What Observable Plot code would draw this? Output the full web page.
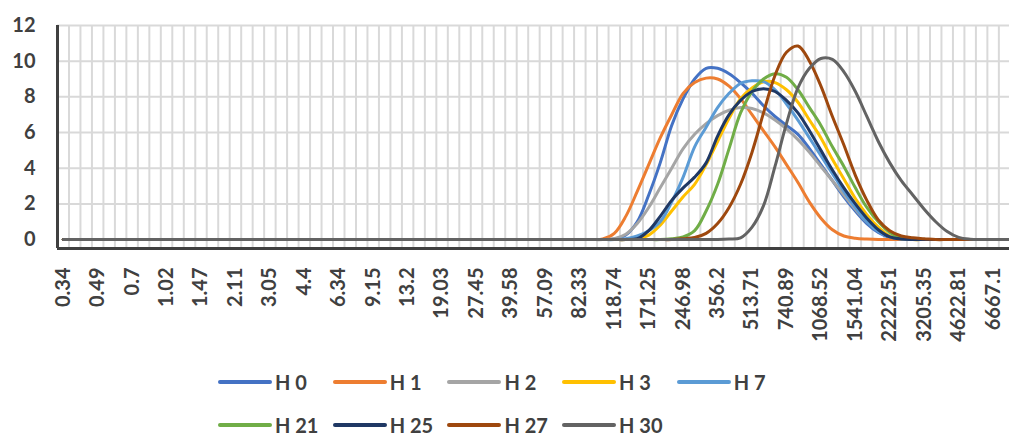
<!DOCTYPE html>
<html><head><meta charset="utf-8">
<script src="https://cdn.jsdelivr.net/npm/d3@7"></script>
<script src="https://cdn.jsdelivr.net/npm/@observablehq/plot@0.6"></script>
<style>
html,body{margin:0;padding:0;background:#fff;overflow:hidden;}
#chart svg{display:block;}
#legend{margin-top:15px;padding-left:218px;width:574px;display:flex;flex-wrap:wrap;font-family:Lato,"Open Sans",sans-serif;font-weight:700;font-size:20px;color:#404040;}
.item{width:114.7px;height:43px;display:flex;align-items:center;white-space:nowrap;}
.sw{width:54px;height:4px;margin-right:3px;border-radius:2px;flex:none;}
</style></head><body><div id="chart"></div><div id="legend"></div>
<script>
// x tick labels (one label every third size class)
const tickLabels = ["0.34","0.49","0.7","1.02","1.47","2.11","3.05","4.4","6.34","9.15","13.2","19.03","27.45","39.58","57.09","82.33","118.74","171.25","246.98","356.2","513.71","740.89","1068.52","1541.04","2222.51","3205.35","4622.81","6667.1"];
const labelEvery = 3;
const yTicks = [0, 2, 4, 6, 8, 10, 12];
const seriesNames = ["H 0","H 1","H 2","H 3","H 7","H 21","H 25","H 27","H 30"];
const seriesColors = ["#4472C4","#ED7D31","#A5A5A5","#FFC000","#5B9BD5","#70AD47","#1F3864","#9E480E","#636363"];

// values per size class (84 classes, 12 per row)
const H0 = [
0,0,0,0,0,0,0,0,0,0,0,0,
0,0,0,0,0,0,0,0,0,0,0,0,
0,0,0,0,0,0,0,0,0,0,0,0,
0,0,0,0,0,0,0,0,0,0,0,0,
0.03,0.25,1.0,2.5,4.3,6.4,7.9,9.0,9.6,9.6,9.3,8.8,
8.2,7.5,6.9,6.4,5.9,5.1,4.2,3.3,2.4,1.6,0.9,0.4,
0.12,0.03,0,0,0,0,0,0,0,0,0,0];
const H1 = [
0,0,0,0,0,0,0,0,0,0,0,0,
0,0,0,0,0,0,0,0,0,0,0,0,
0,0,0,0,0,0,0,0,0,0,0,0,
0,0,0,0,0,0,0,0,0,0,0,0.03,
0.35,1.3,2.7,4.2,5.7,7.0,8.2,8.8,9.05,9.0,8.6,7.9,
7.0,6.1,5.2,4.2,3.2,2.1,1.2,0.55,0.2,0.08,0.03,0,
0,0,0,0,0,0,0,0,0,0,0,0];
const H2 = [
0,0,0,0,0,0,0,0,0,0,0,0,
0,0,0,0,0,0,0,0,0,0,0,0,
0,0,0,0,0,0,0,0,0,0,0,0,
0,0,0,0,0,0,0,0,0,0,0,0,
0.05,0.3,0.9,1.8,2.9,4.0,5.1,5.9,6.5,6.95,7.25,7.4,
7.35,7.1,6.7,6.2,5.6,4.9,4.1,3.3,2.5,1.7,1.0,0.5,
0.2,0.05,0,0,0,0,0,0,0,0,0,0];
const H3 = [
0,0,0,0,0,0,0,0,0,0,0,0,
0,0,0,0,0,0,0,0,0,0,0,0,
0,0,0,0,0,0,0,0,0,0,0,0,
0,0,0,0,0,0,0,0,0,0,0,0,
0,0,0.05,0.25,0.8,1.6,2.4,3.1,4.2,5.5,6.8,7.9,
8.5,8.85,8.8,8.4,7.7,6.7,5.7,4.5,3.4,2.3,1.4,0.7,
0.2,0.05,0,0,0,0,0,0,0,0,0,0];
const H7 = [
0,0,0,0,0,0,0,0,0,0,0,0,
0,0,0,0,0,0,0,0,0,0,0,0,
0,0,0,0,0,0,0,0,0,0,0,0,
0,0,0,0,0,0,0,0,0,0,0,0,
0,0.05,0.2,0.5,1.0,2.1,3.5,5.2,6.3,7.4,8.2,8.75,
8.9,8.85,8.4,7.6,6.7,5.7,4.7,3.7,2.7,1.8,1.0,0.45,
0.15,0.03,0,0,0,0,0,0,0,0,0,0];
const H21 = [
0,0,0,0,0,0,0,0,0,0,0,0,
0,0,0,0,0,0,0,0,0,0,0,0,
0,0,0,0,0,0,0,0,0,0,0,0,
0,0,0,0,0,0,0,0,0,0,0,0,
0,0,0,0,0,0.05,0.15,0.5,1.6,3.1,5.1,7.1,
8.3,9.0,9.3,9.1,8.4,7.4,6.4,5.2,4.1,2.9,1.8,1.0,
0.4,0.1,0.03,0,0,0,0,0,0,0,0,0];
const H25 = [
0,0,0,0,0,0,0,0,0,0,0,0,
0,0,0,0,0,0,0,0,0,0,0,0,
0,0,0,0,0,0,0,0,0,0,0,0,
0,0,0,0,0,0,0,0,0,0,0,0,
0,0,0.05,0.5,1.3,2.2,2.9,3.5,4.3,5.8,7.0,7.8,
8.3,8.45,8.3,7.8,7.1,6.1,5.0,3.9,2.9,2.0,1.2,0.55,
0.15,0.03,0,0,0,0,0,0,0,0,0,0];
const H27 = [
0,0,0,0,0,0,0,0,0,0,0,0,
0,0,0,0,0,0,0,0,0,0,0,0,
0,0,0,0,0,0,0,0,0,0,0,0,
0,0,0,0,0,0,0,0,0,0,0,0,
0,0,0,0,0,0,0.05,0.12,0.35,0.9,1.8,3.1,
4.9,7.1,9.2,10.5,10.85,10.0,8.6,6.9,5.3,3.6,2.2,1.1,
0.5,0.2,0.1,0.05,0,0,0,0,0,0,0,0];
const H30 = [
0,0,0,0,0,0,0,0,0,0,0,0,
0,0,0,0,0,0,0,0,0,0,0,0,
0,0,0,0,0,0,0,0,0,0,0,0,
0,0,0,0,0,0,0,0,0,0,0,0,
0,0,0,0,0,0,0,0,0,0,0.03,0.1,
0.7,1.9,4.1,6.5,8.5,9.6,10.15,10.1,9.4,8.3,6.9,5.5,
4.3,3.3,2.5,1.7,1.0,0.45,0.12,0.02,0,0,0,0];

const seriesValues = [H0, H1, H2, H3, H7, H21, H25, H27, H30];
const nBins = H0.length;

const rows = seriesValues.flatMap((vals, si) =>
  vals.map((v, i) => ({bin: i, value: v, series: seriesNames[si]})));

const tickIdx = tickLabels.map((_, i) => i * labelEvery);
const boundaries = d3.range(nBins + 1).map(i => i - 0.5);

const W = 1009, H = 345;
const marginLeft = 57, marginTop = 25, marginBottom = H - 248;
const binW = 11.48;
const xMax = -0.5 + (W - marginLeft) / binW;

const chart = Plot.plot({
  width: W, height: H,
  marginLeft, marginRight: 0, marginTop, marginBottom,
  style: {fontFamily: "Lato, 'Open Sans', sans-serif", fontWeight: "bold", color: "#404040", background: "#fff", overflow: "hidden"},
  x: {type: "linear", domain: [-0.5, xMax], axis: null},
  y: {domain: [-0.5, 12], axis: null},
  color: {domain: seriesNames, range: seriesColors},
  marks: [
    Plot.gridX({ticks: boundaries, stroke: "#d9d9d9", strokeOpacity: 1, strokeWidth: 2}),
    Plot.gridY({ticks: yTicks.filter(t => t > 0), stroke: "#d9d9d9", strokeOpacity: 1, strokeWidth: 2}),
    Plot.ruleY([-0.5], {stroke: "#404040", strokeWidth: 3}),
    Plot.ruleX([-0.5], {stroke: "#404040", strokeWidth: 3}),
    Plot.line(rows, {x: "bin", y: "value", z: "series", stroke: "series", strokeWidth: 3, curve: "catmull-rom", clip: true}),
    Plot.axisY(yTicks, {label: null, tickSize: 0, tickPadding: 22, fontSize: 20, fontWeight: "bold", color: "#404040", tickFormat: d => String(d)}),
    Plot.axisX(tickIdx, {label: null, tickSize: 0, tickPadding: 19, tickRotate: -90, fontSize: 20, fontWeight: "bold", color: "#404040", tickFormat: i => tickLabels[i / labelEvery]})
  ]
});
document.getElementById("chart").appendChild(chart);

const legend = document.getElementById("legend");
seriesNames.forEach((name, i) => {
  const item = document.createElement("div");
  item.className = "item";
  const sw = document.createElement("span");
  sw.className = "sw";
  sw.style.background = seriesColors[i];
  const t = document.createElement("span");
  t.textContent = name;
  item.appendChild(sw); item.appendChild(t);
  legend.appendChild(item);
});
</script></body></html>
